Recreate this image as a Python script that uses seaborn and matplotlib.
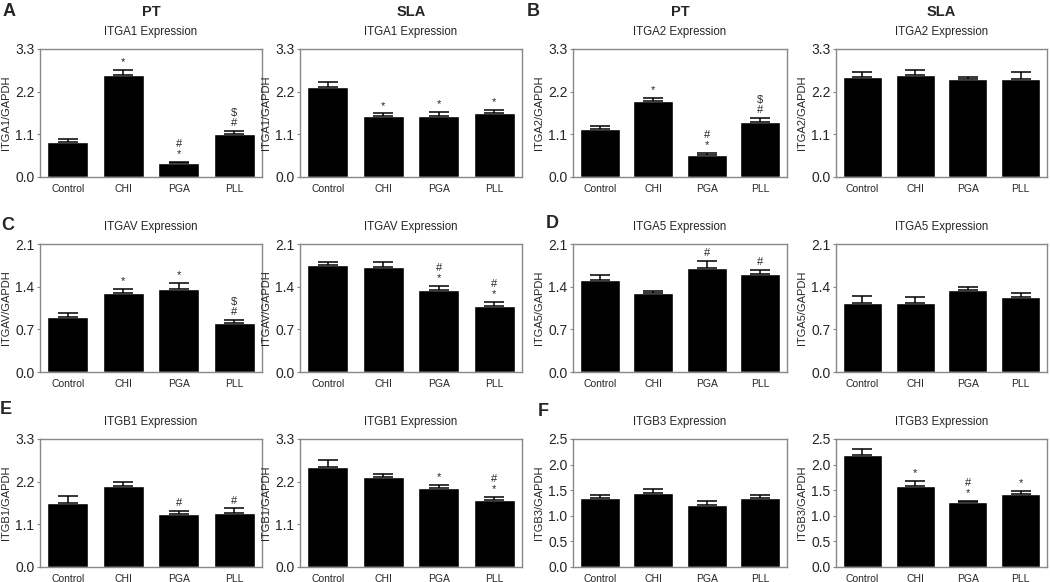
import pandas as pd
import matplotlib
matplotlib.use('Agg')
import matplotlib.pyplot as plt
import seaborn as sns

groups = ['Control', 'CHI', 'PGA', 'PLL']

# bar heights and upper error (SEM)
itga1_pt = [0.91, 2.62, 0.35, 1.11]
itga1_pt_err = [0.08, 0.14, 0.03, 0.07]
itga1_sla = [2.31, 1.57, 1.57, 1.66]
itga1_sla_err = [0.13, 0.07, 0.11, 0.08]

itga2_pt = [1.24, 1.96, 0.58, 1.43]
itga2_pt_err = [0.08, 0.07, 0.04, 0.10]
itga2_sla = [2.58, 2.63, 2.53, 2.53]
itga2_sla_err = [0.13, 0.14, 0.06, 0.18]

itgav_pt = [0.91, 1.29, 1.36, 0.81]
itgav_pt_err = [0.06, 0.07, 0.10, 0.05]
itgav_sla = [1.75, 1.73, 1.34, 1.08]
itgav_sla_err = [0.05, 0.07, 0.07, 0.07]

itga5_pt = [1.51, 1.30, 1.71, 1.61]
itga5_pt_err = [0.08, 0.03, 0.11, 0.06]
itga5_sla = [1.14, 1.13, 1.34, 1.23]
itga5_sla_err = [0.10, 0.10, 0.06, 0.06]

itgb1_pt = [1.66, 2.10, 1.36, 1.39]
itgb1_pt_err = [0.17, 0.10, 0.09, 0.12]
itgb1_sla = [2.57, 2.33, 2.03, 1.73]
itgb1_sla_err = [0.19, 0.08, 0.09, 0.08]

itgb3_pt = [1.35, 1.44, 1.22, 1.35]
itgb3_pt_err = [0.05, 0.09, 0.06, 0.06]
itgb3_sla = [2.19, 1.58, 1.26, 1.43]
itgb3_sla_err = [0.11, 0.10, 0.03, 0.05]

# significance marks above each bar
marks_itga1_pt = ['', '*', '#\n*', '$\n#']
marks_itga1_sla = ['', '*', '*', '*']
marks_itga2_pt = ['', '*', '#\n*', '$\n#']
marks_itga2_sla = ['', '', '', '']
marks_itgav_pt = ['', '*', '*', '$\n#']
marks_itgav_sla = ['', '', '#\n*', '#\n*']
marks_itga5_pt = ['', '', '#', '#']
marks_itga5_sla = ['', '', '', '']
marks_itgb1_pt = ['', '', '#', '#']
marks_itgb1_sla = ['', '', '*', '#\n*']
marks_itgb3_pt = ['', '', '', '']
marks_itgb3_sla = ['', '*', '#\n*', '*']

ticks_33 = [0.0, 1.1, 2.2, 3.3]
ticks_21 = [0.0, 0.7, 1.4, 2.1]
ticks_25 = [0.0, 0.5, 1.0, 1.5, 2.0, 2.5]

sns.set_style('white')
plt.rcParams['font.family'] = ['Liberation Sans', 'DejaVu Sans']

W, H = 1050, 582
fig = plt.figure(figsize=(W / 100, H / 100), dpi=100)

col_lr = [(40, 262), (300, 522), (573, 787), (836, 1047)]
row_tb = [(49, 177), (244, 372), (439, 567)]

panels = [
    # row, col, gene, means, errs, marks, ticks
    (0, 0, 'ITGA1', itga1_pt, itga1_pt_err, marks_itga1_pt, ticks_33),
    (0, 1, 'ITGA1', itga1_sla, itga1_sla_err, marks_itga1_sla, ticks_33),
    (0, 2, 'ITGA2', itga2_pt, itga2_pt_err, marks_itga2_pt, ticks_33),
    (0, 3, 'ITGA2', itga2_sla, itga2_sla_err, marks_itga2_sla, ticks_33),
    (1, 0, 'ITGAV', itgav_pt, itgav_pt_err, marks_itgav_pt, ticks_21),
    (1, 1, 'ITGAV', itgav_sla, itgav_sla_err, marks_itgav_sla, ticks_21),
    (1, 2, 'ITGA5', itga5_pt, itga5_pt_err, marks_itga5_pt, ticks_21),
    (1, 3, 'ITGA5', itga5_sla, itga5_sla_err, marks_itga5_sla, ticks_21),
    (2, 0, 'ITGB1', itgb1_pt, itgb1_pt_err, marks_itgb1_pt, ticks_33),
    (2, 1, 'ITGB1', itgb1_sla, itgb1_sla_err, marks_itgb1_sla, ticks_33),
    (2, 2, 'ITGB3', itgb3_pt, itgb3_pt_err, marks_itgb3_pt, ticks_25),
    (2, 3, 'ITGB3', itgb3_sla, itgb3_sla_err, marks_itgb3_sla, ticks_25),
]

for r, c, gene, means, errs, marks, ticks in panels:
    l, rr = col_lr[c]
    t, b = row_tb[r]
    ax = fig.add_axes([l / W, 1 - b / H, (rr - l) / W, (b - t) / H])
    df = pd.DataFrame({'group': groups, 'value': means})
    sns.barplot(data=df, x='group', y='value', color='black', width=0.74,
                errorbar=None, ax=ax)
    ax.errorbar(range(len(groups)), means, yerr=[[0] * len(errs), errs],
                fmt='none', ecolor='black', elinewidth=1.1, capsize=7.5, capthick=1.1)
    for i, m in enumerate(marks):
        if m:
            ax.annotate(m, (i, means[i] + errs[i]), xytext=(0, 2),
                        textcoords='offset points', ha='center', va='bottom',
                        fontsize=8, linespacing=1.0)
    ax.set_ylim(ticks[0], ticks[-1])
    ax.set_xlim(-0.5, 3.5)
    ax.set_yticks(ticks)
    ax.set_yticklabels([f'{v:.1f}' for v in ticks], fontsize=10)
    ax.tick_params(axis='x', length=0, pad=5, labelsize=7.5)
    ax.tick_params(axis='y', length=2, width=0.8, color='#888888', pad=2, left=True)
    ax.set_xlabel('')
    ax.set_ylabel(f'{gene}/GAPDH', fontsize=8, labelpad=3)
    for s in ax.spines.values():
        s.set_color('#888888')
        s.set_linewidth(1)
    ax.set_title(f'{gene} Expression', fontsize=8.3, pad=10)
    if r == 0:
        fig.text((l + rr) / 2 / W, 1 - 12 / H, 'PT' if c in (0, 2) else 'SLA',
                 ha='center', va='center', fontsize=10.5, fontweight='bold')

letters = [('A', 9, 12), ('B', 533, 12), ('C', 8, 225), ('D', 552, 223),
           ('E', 6, 409), ('F', 543, 411)]
for txt, x, y in letters:
    fig.text(x / W, 1 - y / H, txt, ha='center', va='center',
             fontsize=13, fontweight='bold')

fig.savefig('out.png', dpi=100)
